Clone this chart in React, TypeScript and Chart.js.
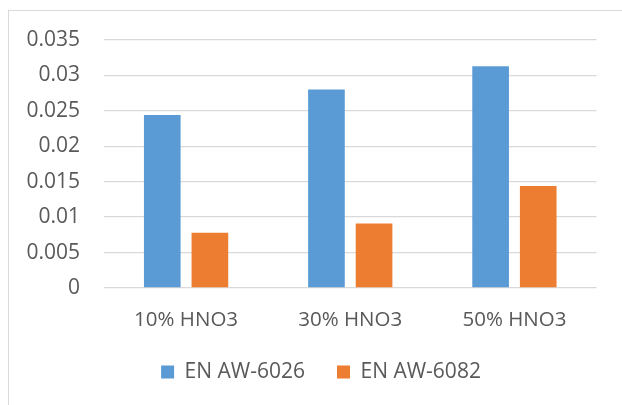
import React, { useEffect, useRef } from "react";
import { Chart, registerables } from "chart.js";

Chart.register(...registerables);

const categories = ["10% HNO3", "30% HNO3", "50% HNO3"];
const seriesNames = ["EN AW-6026", "EN AW-6082"];
const seriesA = [0.0244, 0.028, 0.0313];
const seriesB = [0.0078, 0.0091, 0.0144];
const yTickLabels = ["0", "0.005", "0.01", "0.015", "0.02", "0.025", "0.03", "0.035"];

const BLUE = "#5B9BD5";
const ORANGE = "#ED7D31";
const TEXT = "#595959";
const GRID = "#D9D9D9";
const FONT = "'Open Sans', sans-serif";

const legendShift = {
  id: "legendShift",
  afterLayout(chart: any) {
    if (chart.legend) {
      chart.legend.left = 45.5;
    }
  },
};

export default function App() {
  const ref = useRef<HTMLCanvasElement | null>(null);

  useEffect(() => {
    if (!ref.current) return;
    const chart = new Chart(ref.current, {
      type: "bar",
      data: {
        labels: categories,
        datasets: [
          {
            label: seriesNames[0],
            data: seriesA,
            backgroundColor: BLUE,
            borderWidth: 0,
            categoryPercentage: 0.58,
            barPercentage: 0.77,
          },
          {
            label: seriesNames[1],
            data: seriesB,
            backgroundColor: ORANGE,
            borderWidth: 0,
            categoryPercentage: 0.58,
            barPercentage: 0.77,
          },
        ],
      },
      plugins: [legendShift],
      options: {
        responsive: false,
        animation: false,
        layout: { padding: { left: 0, right: 25.5, top: 40, bottom: 12.5 } },
        plugins: {
          tooltip: { enabled: false },
          legend: {
            position: "bottom",
            labels: {
              boxWidth: 13,
              boxHeight: 13,
              padding: 32,
              color: TEXT,
              font: { family: FONT, size: 21 },
            },
          },
        },
        scales: {
          x: {
            grid: { display: false, drawTicks: false },
            border: { display: false },
            ticks: {
              color: TEXT,
              padding: 19.4,
              font: { family: FONT, size: 20.5 },
              maxRotation: 0,
            },
            afterFit: (s: any) => {
              s.height = 41.5;
            },
          },
          y: {
            min: 0,
            max: 0.035,
            grid: { color: GRID, lineWidth: 1.3, drawTicks: false },
            border: { display: false },
            ticks: {
              stepSize: 0.005,
              padding: 24,
              color: TEXT,
              font: { family: FONT, size: 21 },
              callback: (_v: any, i: number) => yTickLabels[i],
            },
            afterFit: (s: any) => {
              s.width = 104;
            },
          },
        },
      },
    });
    return () => chart.destroy();
  }, []);

  return (
    <div
      style={{
        position: "fixed",
        left: 0,
        top: 0,
        width: 622,
        height: 405,
        overflow: "hidden",
        background: "#fff",
      }}
    >
      <canvas ref={ref} width={622} height={405} style={{ position: "absolute", left: 0, top: 0 }} />
      <div
        style={{
          position: "absolute",
          left: 8,
          top: 10,
          width: 700,
          height: 500,
          border: "1px solid #D9D9D9",
          pointerEvents: "none",
        }}
      />
    </div>
  );
}
